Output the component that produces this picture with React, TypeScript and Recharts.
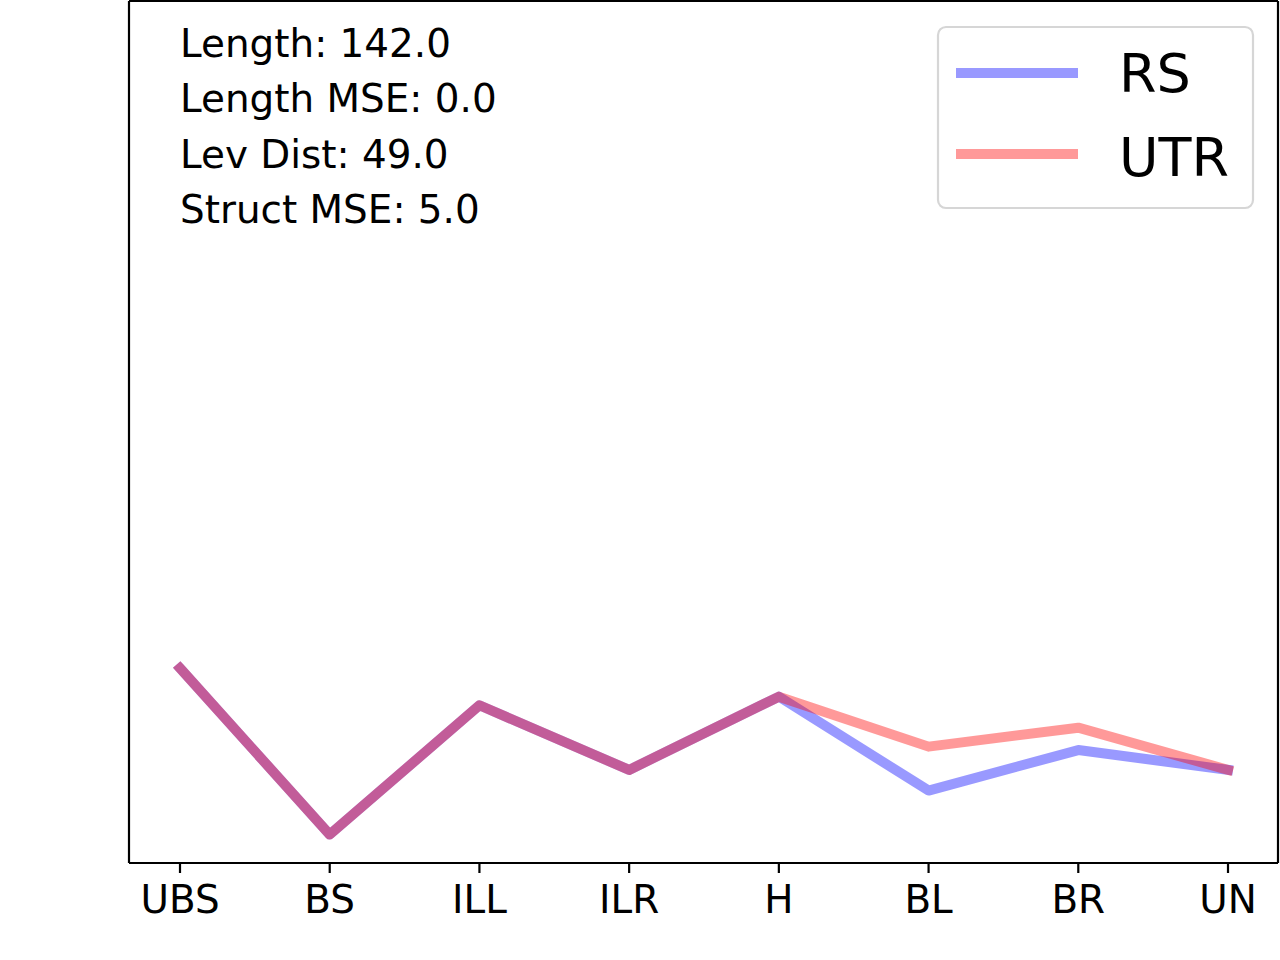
import React from "react";
import { LineChart, Line, XAxis, YAxis, Legend } from "recharts";

const categories = ["UBS", "BS", "ILL", "ILR", "H", "BL", "BR", "UN"];
const rsValues = [22.6, 3.3, 18.3, 10.8, 19.3, 8.4, 13.1, 10.8];
const utrValues = [22.6, 3.3, 18.3, 10.8, 19.3, 13.5, 15.7, 10.8];
const statLines = ["Length: 142.0", "Length MSE: 0.0", "Lev Dist: 49.0", "Struct MSE: 5.0"];

const FONT = "DejaVu Sans";

const data = categories.map((cat, i) => ({
  cat,
  RS: rsValues[i],
  UTR: utrValues[i],
}));

const series = [
  { key: "RS", color: "#0000ff" },
  { key: "UTR", color: "#ff0000" },
];

const LegendBox = () => (
  <svg width={322} height={188} style={{ display: "block" }}>
    <rect
      x={3}
      y={3}
      width={315}
      height={181}
      rx={8}
      ry={8}
      fill="#ffffff"
      fillOpacity={0.8}
      stroke="#d6d6d6"
      strokeWidth={2.2}
    />
    {series.map((s, i) => (
      <g key={s.key}>
        <line
          x1={21}
          x2={143}
          y1={49 + i * 81}
          y2={49 + i * 81}
          stroke={s.color}
          strokeOpacity={0.4}
          strokeWidth={10}
        />
        <text x={184} y={68 + i * 84} fontSize={54} fontFamily={FONT} fill="#000">
          {s.key}
        </text>
      </g>
    ))}
  </svg>
);

const App = () => {
  return (
    <div style={{ position: "absolute", left: 0, top: 0, width: 1280, height: 960, background: "#fff" }}>
      <LineChart
        width={1280}
        height={960}
        data={data}
        margin={{ top: 0, right: 1, bottom: 0, left: 0 }}
      >
        <XAxis
          dataKey="cat"
          height={97}
          padding={{ left: 51, right: 50 }}
          axisLine={{ stroke: "#000", strokeWidth: 2.2 }}
          tickLine={{ stroke: "#000", strokeWidth: 2.2 }}
          tickSize={10}
          tickMargin={12}
          tick={{ fill: "#000", fontSize: 38.9, fontFamily: FONT }}
          interval={0}
        />
        <XAxis
          xAxisId="top"
          dataKey="cat"
          orientation="top"
          height={1}
          tick={false}
          tickLine={false}
          axisLine={{ stroke: "#000", strokeWidth: 2.2 }}
        />
        <YAxis
          width={129}
          domain={[0, 100]}
          tick={false}
          tickLine={false}
          axisLine={{ stroke: "#000", strokeWidth: 2.2 }}
        />
        <YAxis
          yAxisId="right"
          orientation="right"
          width={1}
          domain={[0, 100]}
          tick={false}
          tickLine={false}
          axisLine={{ stroke: "#000", strokeWidth: 2.2 }}
        />
        {series.map((s) => (
          <Line
            key={s.key}
            type="linear"
            dataKey={s.key}
            stroke={s.color}
            strokeOpacity={0.4}
            strokeWidth={10}
            strokeLinecap="square"
            strokeLinejoin="round"
            dot={false}
            activeDot={false}
            isAnimationActive={false}
          />
        ))}
        <Legend
          layout="horizontal"
          verticalAlign="middle"
          align="center"
          content={() => <LegendBox />}
          wrapperStyle={{ left: 935, top: 24, width: 322, height: 188 }}
        />
      </LineChart>
      <svg
        width={600}
        height={250}
        style={{ position: "absolute", left: 0, top: 0, pointerEvents: "none" }}
      >
        {statLines.map((t, i) => (
          <text key={t} x={180} y={57 + i * 55.4} fontSize={38.9} fontFamily={FONT} fill="#000">
            {t}
          </text>
        ))}
      </svg>
    </div>
  );
};

export default App;
